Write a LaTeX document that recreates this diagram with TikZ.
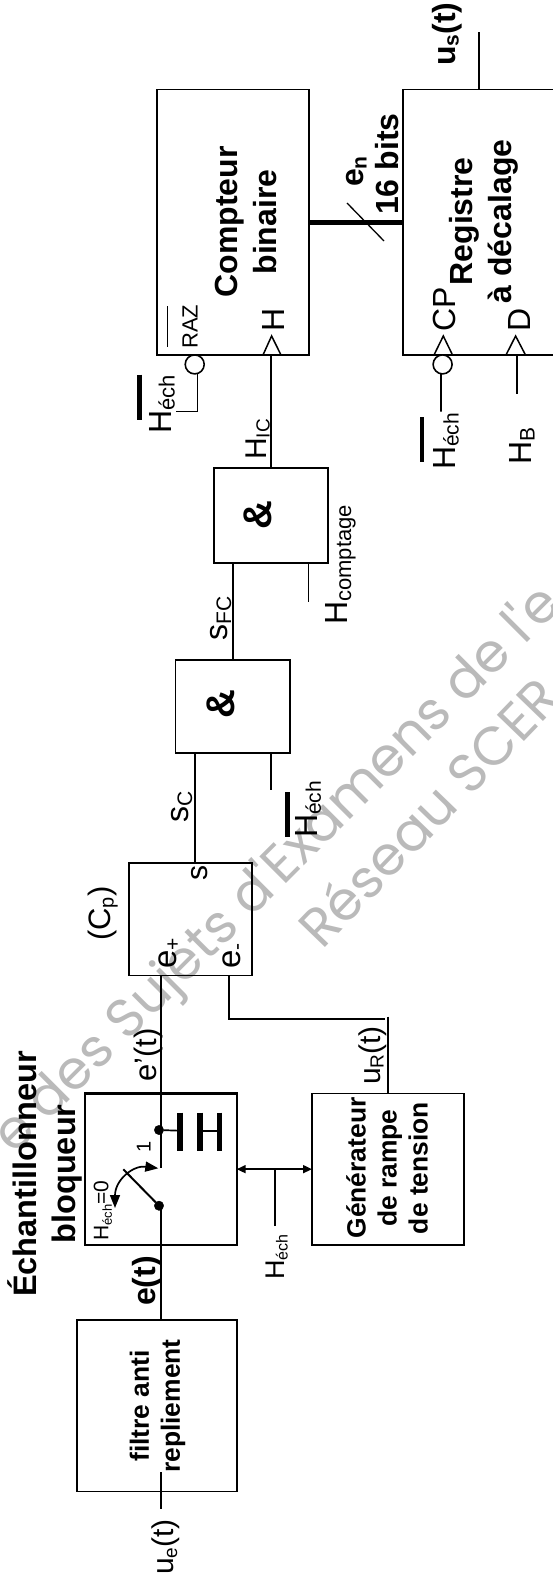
\documentclass[tikz,border=0pt]{standalone}
\usepackage{fontspec}
\setmainfont{Liberation Sans}
\newfontfamily\filigrane{Poppins}
\usetikzlibrary{arrows.meta}
\tikzset{
bloc/.style={draw, rectangle, anchor=north west, inner sep=0pt, outer sep=0pt, line width=1.6pt},
fil/.style={line width=1.7pt},
filfin/.style={line width=1.3pt},
bus/.style={line width=5pt},
barre/.style={line width=4.5pt},
horloge/.style={line width=1.5pt, line join=miter},
inv/.style={draw, circle, fill=white, minimum size=19pt, inner sep=0pt, outer sep=0pt, line width=1.6pt},
point/.style={draw, circle, fill=black, minimum size=9.4pt, inner sep=0pt, outer sep=0pt},
lab/.style={rotate=90, anchor=base west, inner sep=0pt, font=\fontsize{#1}{#1}\selectfont},
lab/.default=32,
labg/.style={lab, font=\fontsize{#1}{#1}\selectfont\bfseries},
labg/.default=32,
txt/.style 2 args={rotate=90, align=center, inner sep=0pt, font=\fontsize{#1}{#2}\selectfont\bfseries},
fond/.style 2 args={rotate=#1, anchor=base west, inner sep=0pt, text=black!27, font=\fontsize{#2}{#2}\selectfont\filigrane},
>={Triangle[length=9pt,width=8pt]}
}
\newcommand{\indice}[2][21]{\raisebox{-3.5pt}{\fontsize{#1}{#1}\selectfont #2}}
\begin{document}
\begin{tikzpicture}[x=1pt,y=-1pt]
    \clip (0,0) rectangle (553,1589);

    \node[fond={45}{54}] (fond1) at (14,1156) {e des Sujets d'Examens de l'e};
    \node[fond={46}{54}] (fond2) at (322,951) {Réseau SCER};

    \node[bloc, minimum width=152pt, minimum height=265.4pt] (compteur) at (157,89.6) {};
    \node[bloc, minimum width=250pt, minimum height=265.4pt] (registre) at (403,89.6) {};
    \node[bloc, minimum width=114pt, minimum height=95pt] (et2) at (213.7,468) {};
    \node[bloc, minimum width=114.4pt, minimum height=93pt] (et1) at (175.6,660) {};
    \node[bloc, minimum width=123pt, minimum height=112.5pt] (cp) at (129,863) {};
    \node[bloc, line width=2.4pt, minimum width=151.7pt, minimum height=151.7pt] (sh) at (85,1093.3) {};
    \node[bloc, minimum width=152pt, minimum height=151.7pt] (gen) at (312,1093.3) {};
    \node[bloc, minimum width=160pt, minimum height=171.6pt] (filtre) at (77,1320) {};

    \node[txt={32}{38.6}] (compteurtxt) at (246,222) {Compteur\\binaire};
    \node[txt={32}{38.6}] (registretxt) at (484,221.4) {Registre\\à décalage};
    \node[txt={26.4}{31}] (gentxt) at (387,1168) {Générateur\\de rampe\\de tension};
    \node[txt={26.4}{31}] (filtretxt) at (157.5,1406) {filtre anti\\repliement};
    \node[txt={32.5}{39}] (shtxt) at (45,1174) {Échantillonneur\\bloqueur};
    \node[rotate=90, inner sep=0pt, font=\fontsize{40}{40}\selectfont\bfseries] (etA) at (258,515) {\&};
    \node[rotate=90, inner sep=0pt, font=\fontsize{40}{40}\selectfont\bfseries] (etB) at (220.4,704.4) {\&};

    \node[labg] (us) at (455,66) {u\indice{s}(t)};
    \node[labg] (en) at (363,187) {e\indice{n}};
    \node[labg] (bits) at (398.5,215) {16 bits};
    \node[lab=22] (raz) at (197.5,349) {RAZ};
    \node[lab] (hechA) at (171,434) {H\indice[22]{éch}};
    \node[lab] (hA) at (284,332) {H};
    \node[lab=30] (hic) at (266,460) {H\indice[19]{IC}};
    \node[lab] (cpl) at (455,332) {CP};
    \node[lab] (dl) at (530,332) {D};
    \node[lab] (hechB) at (455,470) {H\indice{éch}};
    \node[lab] (hb) at (531,465) {H\indice{B}};
    \node[lab] (hcomptage) at (347.5,625) {H\indice[22]{comptage}};
    \node[lab] (sfc) at (227.5,641) {s\indice{FC}};
    \node[lab] (sc) at (188.7,823) {s\indice{C}};
    \node[lab] (hechC) at (317.4,838) {H\indice{éch}};
    \node[lab=30] (sl) at (207.4,881) {s};
    \node[lab=33] (eplus) at (176,969) {e\indice{+}};
    \node[lab=33] (emoins) at (240,969) {e\indice{-}};
    \node[lab=31] (cpnom) at (110,941) {(C\indice[20]{p})};
    \node[lab=31] (eprime) at (156,1082) {e'(t)};
    \node[lab=30] (ur) at (380,1085) {u\indice[19]{R}(t)};
    \node[lab=20] (un) at (150.7,1153) {1};
    \node[lab=21] (hzero) at (108.3,1241) {H\indice[13]{éch}=0};
    \node[lab=27] (hechD) at (284,1280) {H\indice[16]{éch}};
    \node[labg] (et) at (155,1306) {e(t)};
    \node[lab=30] (ue) at (173.5,1575) {u\indice[19]{e}(t)};

    \node[inv] (razinv) at (194.7,364.4) {};
    \node[inv] (reginv) at (442.6,364.4) {};
    \node[point] (dhaut) at (159,1130) {};
    \node[point] (dbas) at (159,1205.7) {};

    \coordinate (usfin) at (479,32.5);
    \coordinate (razfin) at (176.4,411.7);
    \coordinate (regfin) at (441,411.7);
    \coordinate (dfin) at (517,393.8);
    \coordinate (cfin) at (308.6,601.7);
    \coordinate (hfin) at (271,790);
    \coordinate (scin) at (195,800);
    \coordinate (sortie) at (161,1168);
    \coordinate (entree) at (161,1205.7);
    \coordinate (uein) at (161,1472);
    \coordinate (uefin) at (161,1508.6);
    \coordinate (eneg) at (229,1019);
    \coordinate (urfin) at (385,1019);
    \coordinate (urhaut) at (388,1016.7);
    \coordinate (hmid) at (275,1226);
    \coordinate (lame) at (123.3,1169.3);
    \coordinate (tipA) at (158.3,1168.3);
    \coordinate (tipB) at (115,1208);
    \coordinate (plaqueA) at (179.7,1130.7);
    \coordinate (plaqueB) at (199.7,1130.7);
    \coordinate (plaqueC) at (219.3,1130.7);

    \draw[fil] (usfin) -- (registre.north -| usfin);
    \draw[bus] (compteur.east) -- (registre.west);
    \draw[filfin] (347,203) -- (384,241);
    \draw[filfin] (razinv.-75) |- (razfin);
    \draw[fil] (compteur.south -| et2.north) -- (et2.north);
    \draw[horloge] (263,355) -- (271.6,336) -- (281,355);
    \draw[horloge] (434,355) -- (443.3,336) -- (452.5,355);
    \draw[horloge] (506,355) -- (515.6,336) -- (525.5,355);
    \draw[fil] (reginv.-100) -- (regfin);
    \draw[fil] (registre.south -| dfin) -- (dfin);
    \draw[fil] (et1.north) -- (et1.north |- et2.south);
    \draw[fil] (et2.south -| cfin) -- (cfin);
    \draw[fil] (et1.south -| hfin) -- (hfin);
    \draw[fil] (et1.south -| scin) -- (cp.north -| scin);
    \draw[line width=2pt] (cp.south -| sortie) -- (sortie);
    \draw[line width=2pt] (entree) -- (filtre.north -| entree);
    \draw[line width=2pt] (uein) -- (uefin);
    \draw[filfin] (cp.south -| eneg) -- (eneg) -- (urfin);
    \draw[filfin] (urhaut) -- (gen.north);
    \draw[<->, fil] (sh.east) -- (gen.west);
    \draw[fil] (hmid) -- (hmid |- sh.east);
    \draw[line width=2pt] (dbas) -- (lame);
    \draw[<->, line width=1.7pt, >={Triangle[length=13pt,width=10pt]}] (tipA) .. controls (133,1165) and (115,1180) .. (tipB);
    \draw[fil] (dhaut) -- (plaqueA);
    \draw[fil] (plaqueB) -- (plaqueC);
    \draw[line width=5.6pt] (179.7,1112.7) -- (179.7,1150.7);
    \draw[line width=5.6pt] (199.7,1112.7) -- (199.7,1150.7);
    \draw[line width=5.2pt] (219.3,1112.7) -- (219.3,1150.7);

    \draw[line width=1pt] (167,306) -- (167,346.5);
    \draw[barre] (139.7,374.5) -- (139.7,420);
    \draw[barre] (422,417.4) -- (422,462);
    \draw[barre] (287.5,792) -- (287.5,837);
\end{tikzpicture}
\end{document}
